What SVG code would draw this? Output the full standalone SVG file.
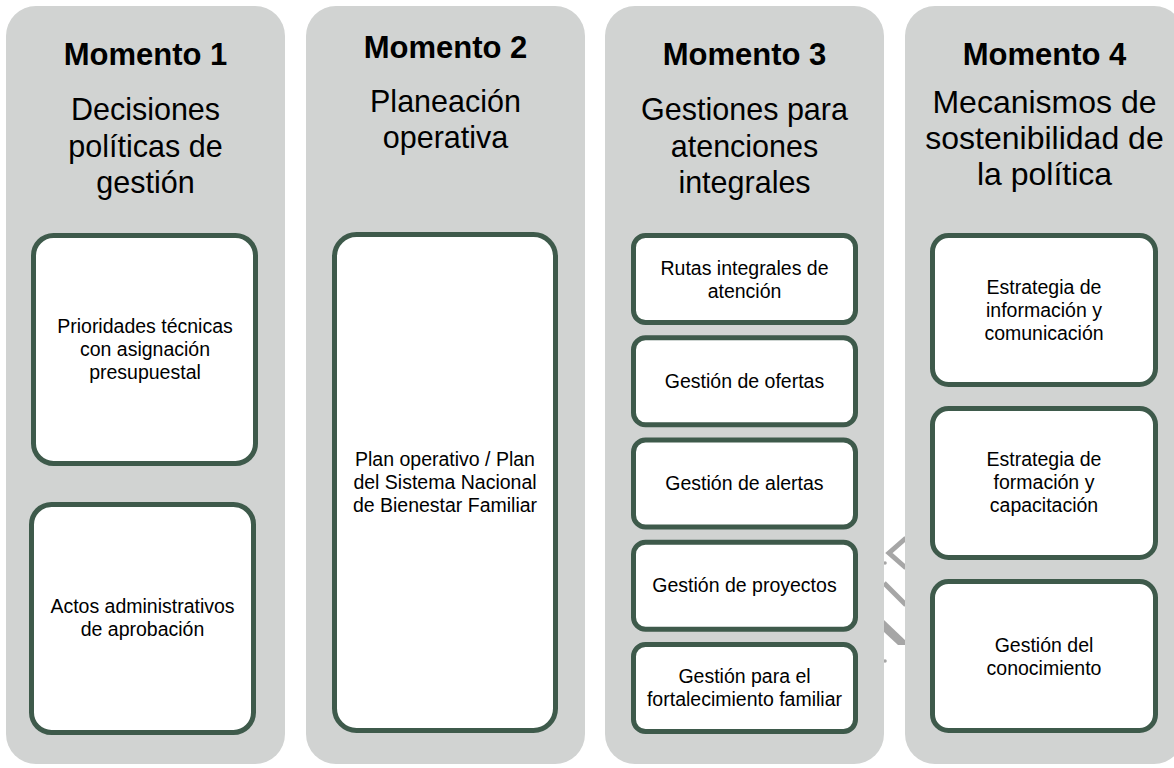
<svg xmlns="http://www.w3.org/2000/svg" width="1174" height="768" viewBox="0 0 1174 768">
  <style>
    .col { fill: #d1d3d2; }
    .box { fill: #ffffff; stroke: #3e5a4b; stroke-width: 5; }
    .title { font-family: "Liberation Sans", Arial, sans-serif; font-weight: bold; font-size: 31px; fill: #000; text-anchor: middle; }
    .sub { font-family: "Liberation Sans", Arial, sans-serif; font-size: 30.5px; fill: #000; text-anchor: middle; }
    .sub4 { font-size: 32px; }
    .lbl { font-family: "Liberation Sans", Arial, sans-serif; font-size: 19.5px; fill: #000; text-anchor: middle; }
    .deco { fill: none; stroke: #a6a6a6; stroke-width: 5; }
  </style>
  <rect width="1174" height="768" fill="#ffffff"/>

  <g id="connectors">
    <polyline class="deco" points="906,538 889,553 906,568"/>
    <line class="deco" x1="884" y1="583" x2="906" y2="605"/>
    <polygon points="884,620 906,641 906,645 898,645 884,632" fill="#a6a6a6"/>
    <circle cx="885" cy="563" r="1.8" fill="#a6a6a6"/>
    <circle cx="885" cy="661" r="1.8" fill="#a6a6a6"/>
  </g>

  <g id="momento1">
    <rect class="col" x="6" y="6" width="279" height="758" rx="30"/>
    <text class="title" x="145.5" y="65">Momento 1</text>
    <text class="sub" x="145.5" y="120">Decisiones</text>
    <text class="sub" x="145.5" y="157">políticas de</text>
    <text class="sub" x="145.5" y="193">gestión</text>
  </g>
  <g id="m1-prioridades">
    <rect class="box" x="33.5" y="235.5" width="222" height="228" rx="20"/>
    <text class="lbl" x="145" y="333">Prioridades técnicas</text>
    <text class="lbl" x="145" y="356">con asignación</text>
    <text class="lbl" x="145" y="379">presupuestal</text>
  </g>
  <g id="m1-actos">
    <rect class="box" x="31.5" y="504.5" width="222" height="228" rx="20"/>
    <text class="lbl" x="142.5" y="613">Actos administrativos</text>
    <text class="lbl" x="142.5" y="636">de aprobación</text>
  </g>

  <g id="momento2">
    <rect class="col" x="306" y="6" width="279" height="758" rx="30"/>
    <text class="title" x="445.5" y="58">Momento 2</text>
    <text class="sub" x="445.5" y="112">Planeación</text>
    <text class="sub" x="445.5" y="148">operativa</text>
  </g>
  <g id="m2-plan">
    <rect class="box" x="334.5" y="234.5" width="221" height="496" rx="22"/>
    <text class="lbl" x="445" y="466">Plan operativo / Plan</text>
    <text class="lbl" x="445" y="489">del Sistema Nacional</text>
    <text class="lbl" x="445" y="512">de Bienestar Familiar</text>
  </g>

  <g id="momento3">
    <rect class="col" x="605" y="6" width="279" height="758" rx="30"/>
    <text class="title" x="744.5" y="65">Momento 3</text>
    <text class="sub" x="744.5" y="120">Gestiones para</text>
    <text class="sub" x="744.5" y="157">atenciones</text>
    <text class="sub" x="744.5" y="193">integrales</text>
  </g>
  <g id="m3-rutas">
    <rect class="box" x="633.5" y="235.5" width="222" height="87" rx="12"/>
    <text class="lbl" x="744.5" y="275">Rutas integrales de</text>
    <text class="lbl" x="744.5" y="298">atención</text>
  </g>
  <g id="m3-ofertas">
    <rect class="box" x="633.5" y="337.75" width="222" height="87" rx="12"/>
    <text class="lbl" x="744.5" y="388">Gestión de ofertas</text>
  </g>
  <g id="m3-alertas">
    <rect class="box" x="633.5" y="440" width="222" height="87" rx="12"/>
    <text class="lbl" x="744.5" y="490">Gestión de alertas</text>
  </g>
  <g id="m3-proyectos">
    <rect class="box" x="633.5" y="542.25" width="222" height="87" rx="12"/>
    <text class="lbl" x="744.5" y="592">Gestión de proyectos</text>
  </g>
  <g id="m3-fortalecimiento">
    <rect class="box" x="633.5" y="644.5" width="222" height="87" rx="12"/>
    <text class="lbl" x="744.5" y="683">Gestión para el</text>
    <text class="lbl" x="744.5" y="706">fortalecimiento familiar</text>
  </g>

  <g id="momento4">
    <rect class="col" x="905" y="6" width="279" height="758" rx="30"/>
    <text class="title" x="1044.5" y="65">Momento 4</text>
    <text class="sub sub4" x="1044.5" y="113">Mecanismos de</text>
    <text class="sub sub4" x="1044.5" y="149">sostenibilidad de</text>
    <text class="sub sub4" x="1044.5" y="185">la política</text>
  </g>
  <g id="m4-informacion">
    <rect class="box" x="932.5" y="235.5" width="223" height="149" rx="16"/>
    <text class="lbl" x="1044" y="294">Estrategia de</text>
    <text class="lbl" x="1044" y="317">información y</text>
    <text class="lbl" x="1044" y="340">comunicación</text>
  </g>
  <g id="m4-formacion">
    <rect class="box" x="932.5" y="408.5" width="223" height="149" rx="16"/>
    <text class="lbl" x="1044" y="466">Estrategia de</text>
    <text class="lbl" x="1044" y="489">formación y</text>
    <text class="lbl" x="1044" y="512">capacitación</text>
  </g>
  <g id="m4-conocimiento">
    <rect class="box" x="932.5" y="581.5" width="223" height="149" rx="16"/>
    <text class="lbl" x="1044" y="652">Gestión del</text>
    <text class="lbl" x="1044" y="675">conocimiento</text>
  </g>
</svg>
